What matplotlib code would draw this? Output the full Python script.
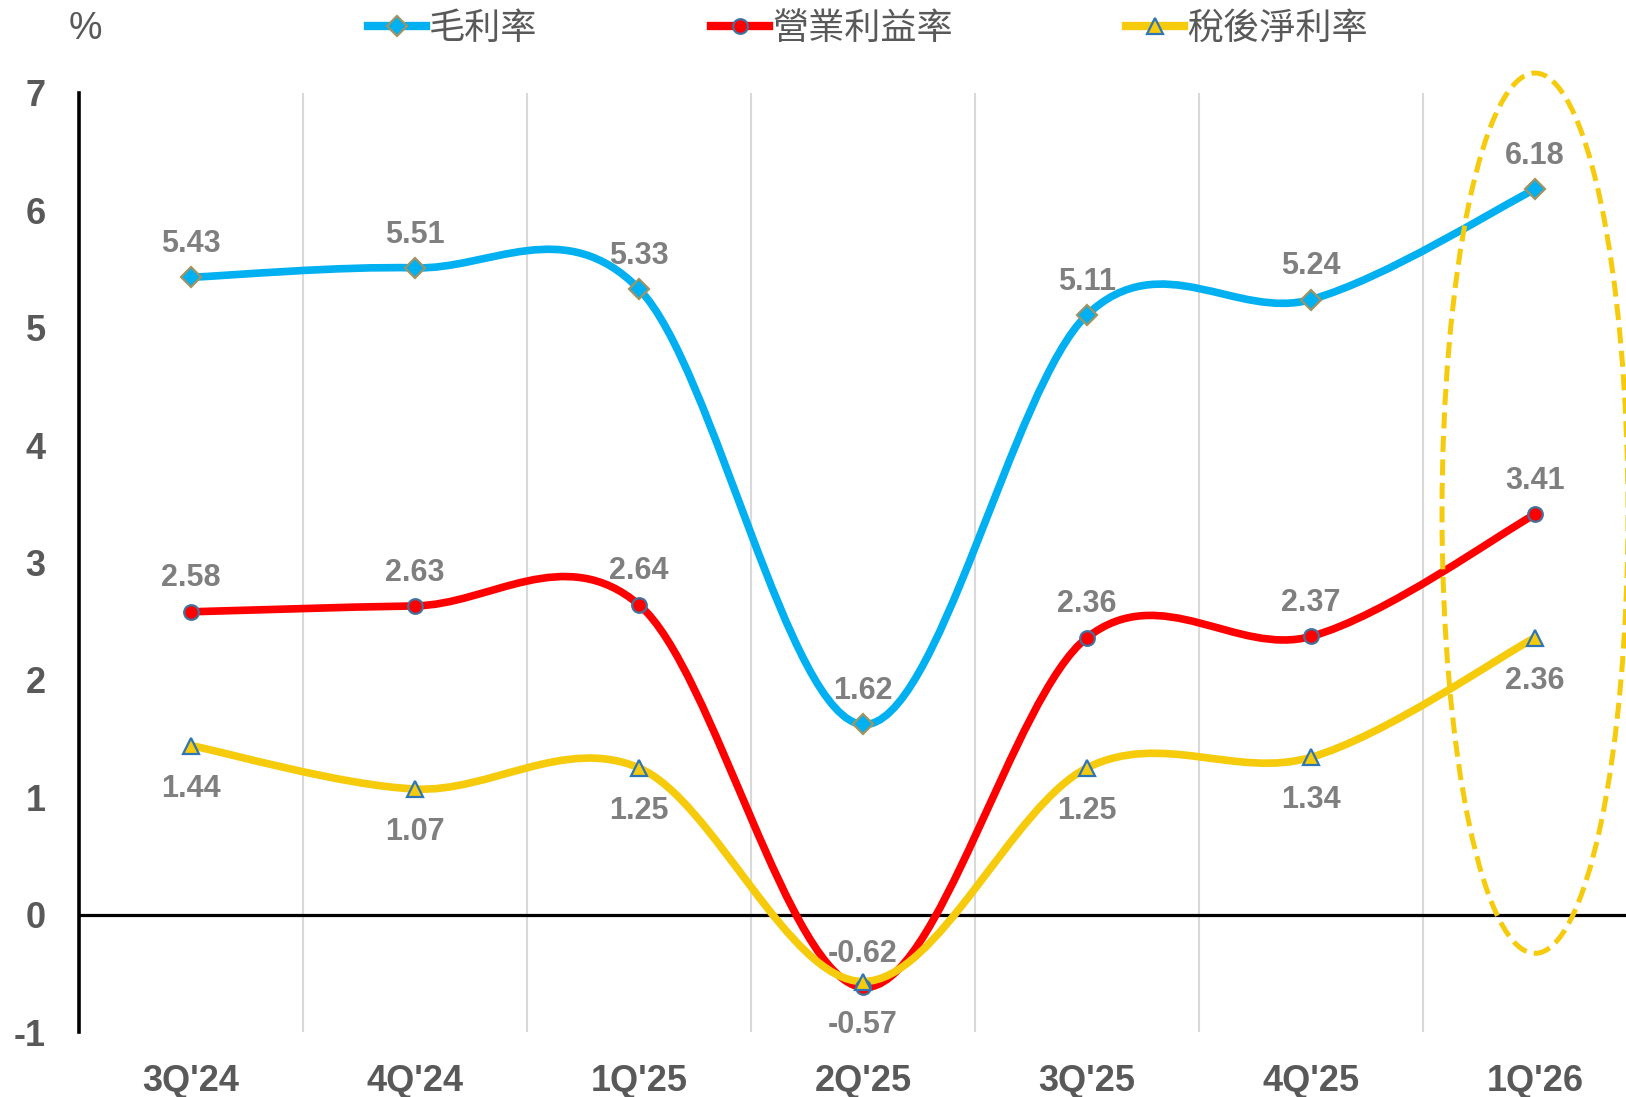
import numpy as np
import matplotlib
matplotlib.use('Agg')
from matplotlib import pyplot as plt
from matplotlib.path import Path
from matplotlib.patches import PathPatch, Ellipse
from matplotlib.lines import Line2D

plt.rcParams['axes.unicode_minus'] = False

quarters = ["3Q'24", "4Q'24", "1Q'25", "2Q'25", "3Q'25", "4Q'25", "1Q'26"]
gross = [5.43, 5.51, 5.33, 1.62, 5.11, 5.24, 6.18]
operating = [2.58, 2.63, 2.64, -0.62, 2.36, 2.37, 3.41]
net = [1.44, 1.07, 1.25, -0.57, 1.25, 1.34, 2.36]
names = ["毛利率", "營業利益率", "稅後淨利率"]

BLUE = "#00b0f0"
RED = "#ff0000"
YELLOW = "#f5cb0c"
TICK = "#595959"
LABEL = "#7f7f7f"
NUM_FONT = ["Liberation Sans", "DejaVu Sans"]
CJK_FONT = ["Noto Sans CJK TC", "DejaVu Sans"]


def smooth_path(xs, ys):
    # Excel-style smoothed line: Catmull-Rom converted to cubic Bezier
    pts = np.column_stack([xs, ys]).astype(float)
    ext = np.vstack([pts[0], pts, pts[-1]])
    verts = [pts[0]]
    codes = [Path.MOVETO]
    for i in range(len(pts) - 1):
        p0, p1, p2, p3 = ext[i], ext[i + 1], ext[i + 2], ext[i + 3]
        c1 = p1 + (p2 - p0) / 6
        c2 = p2 - (p3 - p1) / 6
        verts += [c1, c2, p2]
        codes += [Path.CURVE4] * 3
    return Path(verts, codes)


fig = plt.figure(figsize=(16.26, 10.97), dpi=100)
ax = fig.add_axes([79 / 1626, 65 / 1097, 1568 / 1626, 939 / 1097])

x = np.arange(len(quarters))
series = [
    (gross, BLUE, "D", 10, "#a09464", 24),
    (operating, RED, "o", 10.5, "#41719c", 24),
    (net, YELLOW, "^", 12, "#2e75b6", -31),
]

for vals, col, mk, ms, ec, off in series:
    ax.add_patch(PathPatch(smooth_path(x, vals), fill=False, edgecolor=col,
                           lw=5.5, capstyle="round", zorder=3))
    ax.plot(x, vals, ls="none", marker=mk, ms=ms, mfc=col, mec=ec, mew=1.6, zorder=4)
    for xi, v in zip(x, vals):
        ax.annotate(f"{v:.2f}", (xi, v), xytext=(0, off), textcoords="offset points",
                    ha="center", va="center", fontsize=22, fontweight="bold",
                    color=LABEL, family=NUM_FONT, zorder=5)

ax.axhline(0, color="black", lw=2.3, zorder=2)

ax.add_patch(Ellipse((6, 3.42), 0.83, 7.5, fill=False, edgecolor=YELLOW, lw=3.6,
                     ls=(0, (3.2, 1.5)), clip_on=False, zorder=6))

ax.set_xlim(-0.5, 6.5)
ax.set_ylim(-1, 7)
ax.set_xticks(x)
ax.set_xticklabels(quarters)
ax.set_xticks(np.arange(0.5, 6.5, 1), minor=True)
ax.grid(True, axis="x", which="minor", color="#d9d9d9", lw=1.5)
ax.set_yticks(np.arange(-1, 8, 1))
ax.tick_params(axis="both", which="both", length=0)
ax.tick_params(axis="x", pad=23)
ax.tick_params(axis="y", pad=24)
for lab in ax.get_xticklabels() + ax.get_yticklabels():
    lab.set_fontsize(26)
    lab.set_fontweight("bold")
    lab.set_color(TICK)
    lab.set_family(NUM_FONT)

for s in ["top", "right", "bottom"]:
    ax.spines[s].set_visible(False)
ax.spines["left"].set_linewidth(2.6)
ax.spines["left"].set_color("black")

fig.text(85 / 1626, 1 - 29 / 1097, "%", ha="center", va="center", fontsize=27,
         color=TICK, family=NUM_FONT)

handles = [Line2D([], [], color=c, lw=6, marker=m, ms=ms, mfc=c, mec=e, mew=1.6)
           for _, c, m, ms, e, _ in series]
leg = fig.legend(handles, names, loc="center", bbox_to_anchor=(868 / 1626, 1 - 29 / 1097),
                 ncol=3, frameon=False, handlelength=1.6, handletextpad=0.1,
                 columnspacing=4.8, prop={"family": CJK_FONT, "size": 26})
for t in leg.get_texts():
    t.set_color(TICK)

fig.savefig("out.png", dpi=100)
plt.close()
